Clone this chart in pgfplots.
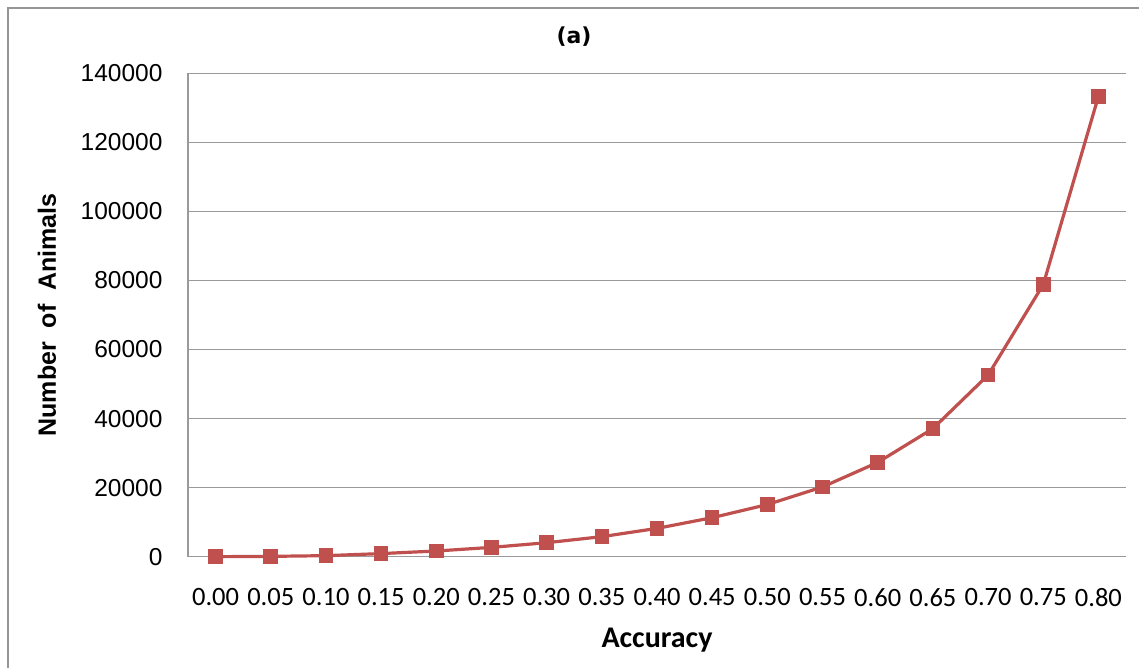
\documentclass[border=0pt]{standalone}
\usepackage{fontspec}
\setmainfont{Carlito}
\newfontfamily\arialf{Liberation Sans}
\newfontfamily\dejaf{DejaVu Sans}
\usepackage{pgfplots}
\pgfplotsset{compat=1.18}
\definecolor{linered}{HTML}{C0504D}
\definecolor{gridgray}{HTML}{9A9A9A}
\definecolor{framegray}{HTML}{959595}
\begin{document}
\begin{tikzpicture}[x=1pt,y=1pt]
\useasboundingbox (0,0) rectangle (1139,668);
\draw[framegray, line width=1.8pt] (8,-20) -- (8,660) -- (1160,660);
\begin{axis}[
  at={(188pt,111.3pt)}, anchor=south west,
  scale only axis, width=938pt, height=483.4pt,
  xmin=-0.5, xmax=16.5, ymin=0, ymax=140000,
  xtick={0,...,16},
  xticklabels={0.00,0.05,0.10,0.15,0.20,0.25,0.30,0.35,0.40,0.45,0.50,0.55,0.60,0.65,0.70,0.75,0.80},
  ytick={0,20000,40000,60000,80000,100000,120000,140000},
  yticklabels={0,20000,40000,60000,80000,100000,120000,140000},
  scaled y ticks=false,
  ymajorgrids, grid style={gridgray, line width=1.5pt},
  axis x line*=bottom, axis y line*=left,
  axis line style={gridgray, line width=1.5pt, -},
  major tick length=0pt,
  xticklabel style={font=\fontsize{26.5}{30}\selectfont, yshift=-28pt},
  yticklabel style={font=\arialf\fontsize{24.5}{28}\selectfont, xshift=-22pt},
  clip=false,
]
\addplot[linered, line width=3.2pt, mark=square*, mark size=5.7pt, mark options={solid, fill=linered}]
coordinates {
(0,0) (1,100) (2,300) (3,900) (4,1650) (5,2700) (6,4050) (7,5800) (8,8200)
(9,11300) (10,15100) (11,20200) (12,27300) (13,37100) (14,52600) (15,78800) (16,133300)
};
\end{axis}
\node at (574,631) {\dejaf\bfseries\fontsize{22}{26}\selectfont (a)};
\node[rotate=90] at (47,353) {\arialf\bfseries\fontsize{25}{30}\selectfont Number\ \ of\ \ Animals};
\node at (657,28) {\bfseries\fontsize{30}{34}\selectfont Accuracy};
\end{tikzpicture}
\end{document}
